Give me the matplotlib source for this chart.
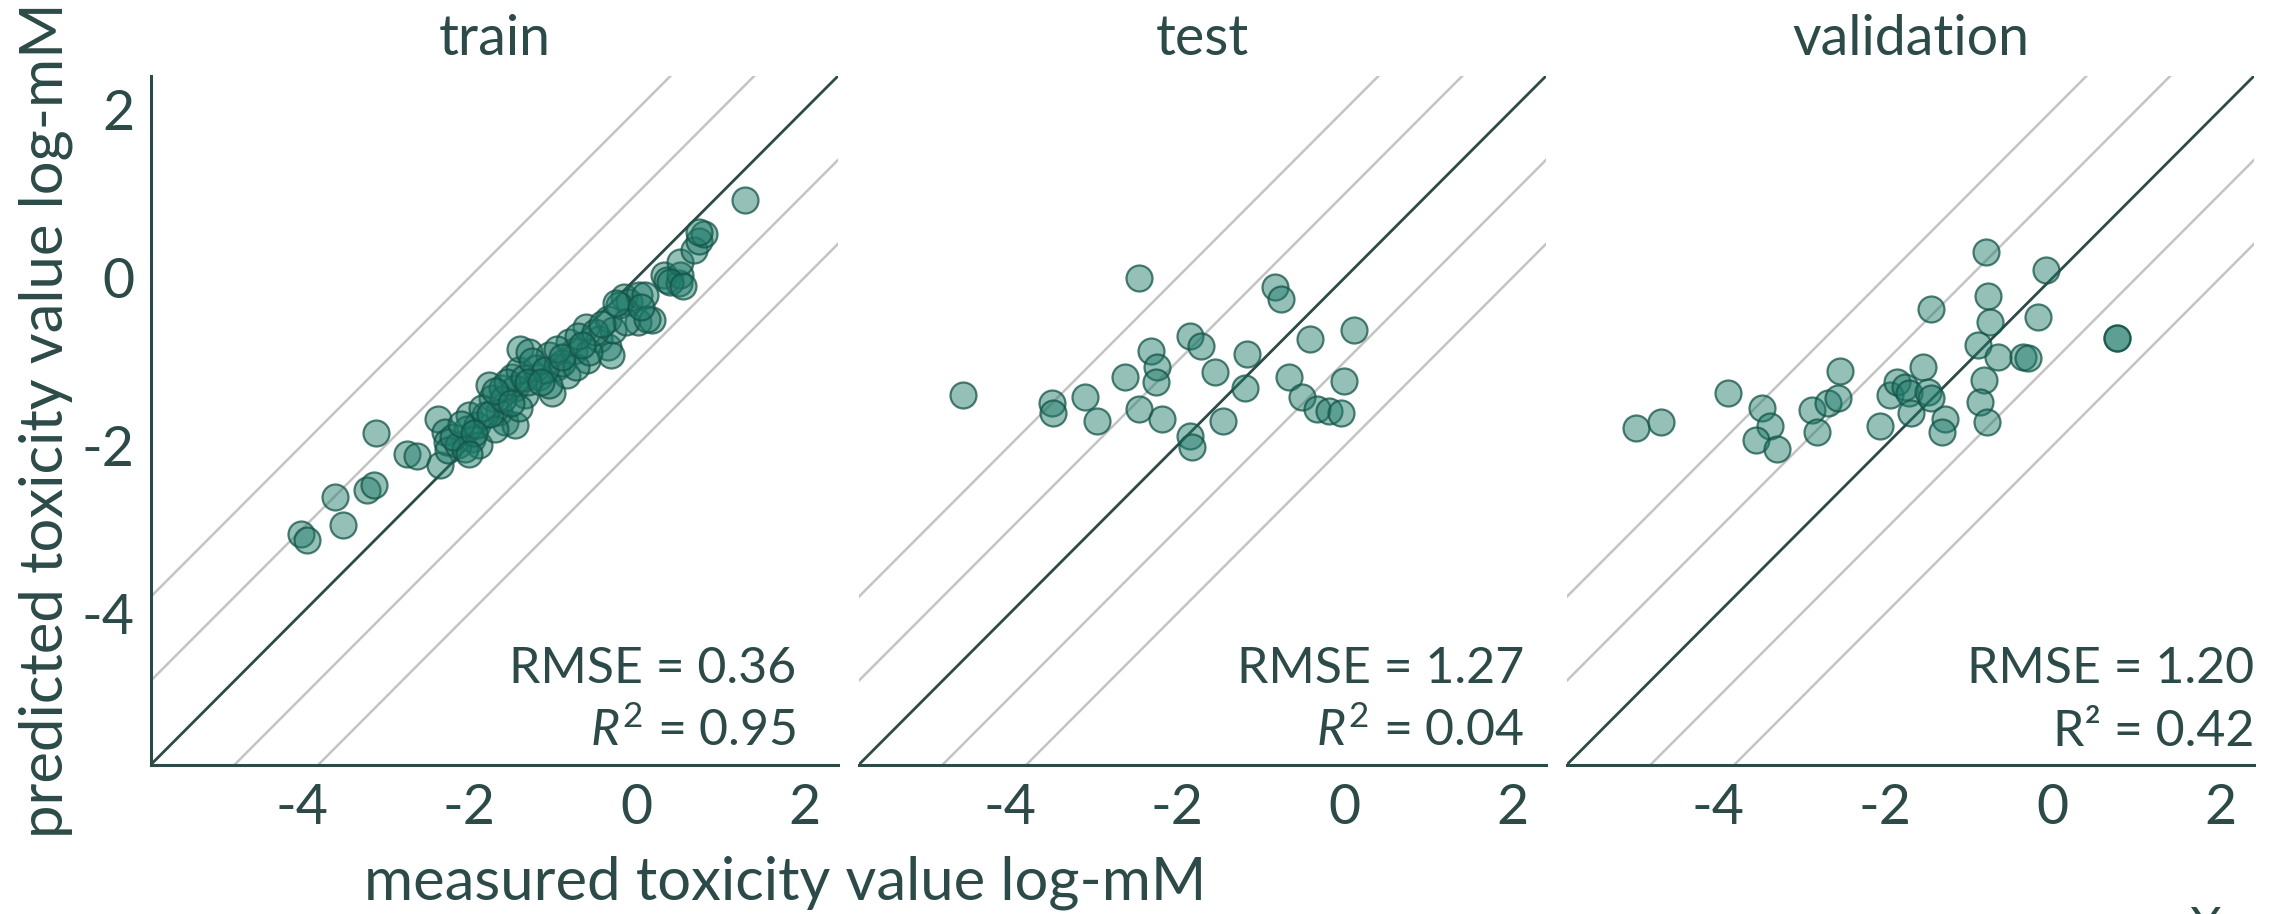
import matplotlib
matplotlib.use("Agg")
import matplotlib.pyplot as plt

plt.rcParams['font.family'] = ['Lato', 'DejaVu Sans']
plt.rcParams['mathtext.fontset'] = 'custom'
plt.rcParams['mathtext.rm'] = 'Lato'
plt.rcParams['mathtext.it'] = 'Lato:italic'

# ---------------- data ----------------
panel_titles = ["train", "test", "validation"]
tick_values = [-4, -2, 0, 2]
tick_labels = ["-4", "-2", "0", "2"]
band_offsets = [-2, -1, 1, 2]

train_measured = [1.29, -4.01, -3.94, -3.60, -3.51, -3.22, -3.14, -3.12, -2.74, -2.62,
                  -2.35, -2.37, -2.29, -2.27, -2.25, -2.01, -2.03, -1.97, -1.89, -1.91,
                  -1.77, -1.73, -1.65, -1.57, -1.45, -1.61, -1.49, -1.41, -1.39, -1.29,
                  -1.45, -1.33, -1.17, -1.01, -1.05, -0.95, -0.83, -0.75, -0.81, -0.61,
                  -0.59, -0.45, -0.35, -0.31, -0.35, -0.29, -0.15, -0.10, 0.02, 0.10,
                  0.01, 0.18, 0.32, 0.36, 0.50, 0.52, 0.52, 0.68, 0.74, 0.80,
                  0.74, -1.81, -1.69, -2.13, -2.05, -1.41, -1.21, -1.05, -0.89, -0.73,
                  -0.57, -0.21, -0.13, 0.12,
                  -1.85, -1.75, -1.60, -1.55, -1.35, -1.25, -1.10, -0.95, -0.70, -0.50,
                  -0.42, -2.20, -2.10, -1.95, -1.70, -1.50, -1.30, -0.90, -0.65, -0.25,
                  0.40, 0.55, 0.05, -1.15, -2.00]
train_predicted = [0.92, -3.05, -3.13, -2.61, -2.95, -2.53, -2.47, -1.85, -2.10, -2.12,
                   -2.23, -1.69, -1.84, -1.96, -2.06, -1.64, -1.80, -1.92, -2.00, -1.76,
                   -1.28, -1.44, -1.60, -1.72, -1.76, -1.32, -1.18, -1.10, -0.85, -0.89,
                   -1.32, -1.40, -1.18, -1.38, -0.92, -1.06, -1.16, -0.87, -0.77, -0.59,
                   -0.98, -0.73, -0.83, -0.92, -0.49, -0.63, -0.23, -0.29, -0.21, -0.21,
                   -0.53, -0.51, 0.03, -0.03, -0.07, 0.03, 0.19, 0.33, 0.44, 0.52,
                   0.54, -1.64, -1.80, -2.00, -2.04, -1.56, -1.08, -1.28, -1.02, -1.06,
                   -0.89, -0.33, -0.53, -0.49,
                   -1.55, -1.62, -1.45, -1.25, -1.20, -1.00, -1.10, -0.85, -0.70, -0.65,
                   -0.55, -1.90, -1.75, -1.85, -1.35, -1.50, -1.25, -0.95, -0.80, -0.30,
                   -0.05, -0.10, -0.35, -1.25, -2.10]

test_measured = [-4.56, -2.46, -3.50, -3.48, -3.10, -2.96, -2.63, -2.46, -2.32, -2.24,
                 -2.26, -2.18, -1.85, -1.72, -1.55, -1.85, -1.82, -1.46, -1.17, -1.19,
                 -0.83, -0.76, -0.42, -0.67, -0.51, -0.33, -0.19, -0.05, -0.01, 0.11]
test_predicted = [-1.40, 0.00, -1.49, -1.61, -1.42, -1.71, -1.18, -1.57, -0.88, -1.06,
                  -1.24, -1.69, -0.70, -0.81, -1.13, -1.89, -2.02, -1.71, -0.91, -1.32,
                  -0.11, -0.26, -0.73, -1.18, -1.42, -1.57, -1.59, -1.61, -1.23, -0.63]

valid_measured = [-4.98, -4.68, -3.88, -3.47, -3.38, -3.55, -3.29, -2.88, -2.82, -2.68,
                  -2.56, -2.54, -2.06, -1.94, -1.86, -1.77, -1.72, -1.69, -1.55, -1.49,
                  -1.45, -1.45, -1.29, -1.32, -0.80, -0.08, -0.78, -0.18, -0.75, -0.90,
                  -0.66, -0.36, -0.30, -0.82, -0.87, -0.79, 0.77, 0.77]
valid_predicted = [-1.79, -1.72, -1.37, -1.55, -1.77, -1.93, -2.04, -1.58, -1.84, -1.49,
                   -1.43, -1.11, -1.77, -1.40, -1.24, -1.30, -1.38, -1.61, -1.06, -1.36,
                   -1.43, -0.38, -1.68, -1.84, 0.30, 0.09, -0.22, -0.475, -0.53, -0.80,
                   -0.95, -0.95, -0.96, -1.22, -1.48, -1.72, -0.72, -0.72]

rmse_values = ["0.36", "1.27", "1.20"]
r2_values = ["0.95", "0.04", "0.42"]
r2_italic = [True, True, False]

measured = [train_measured, test_measured, valid_measured]
predicted = [train_predicted, test_predicted, valid_predicted]

# ---------------- style ----------------
DARK = '#2c4a47'
GRAY = '#c4c4c4'
FACE = (0.12, 0.48, 0.41, 0.47)
EDGE = (0.08, 0.33, 0.28, 0.75)
LIM = (-5.8, 2.4)

W, H = 2280, 914
fig = plt.figure(figsize=(W / 100, H / 100), dpi=100)

lefts = [151, 859, 1567]
axw = 687
bottom_px, top_px = 764.5, 76
text_right = [1.90, 2.14, 2.40]

for i in range(3):
    ax = fig.add_axes([lefts[i] / W, (H - bottom_px) / H, axw / W, (bottom_px - top_px) / H])
    ax.set_xlim(LIM)
    ax.set_ylim(LIM)
    for k in band_offsets:
        ax.axline((0, k), slope=1, color=GRAY, lw=1.8, zorder=1)
    ax.axline((0, 0), slope=1, color=DARK, lw=2.0, zorder=2)
    ax.scatter(measured[i], predicted[i], s=350, facecolors=[FACE], edgecolors=[EDGE],
               linewidths=1.6, zorder=3)

    for side in ['top', 'right']:
        ax.spines[side].set_visible(False)
    ax.spines['bottom'].set_color(DARK)
    ax.spines['bottom'].set_linewidth(2.2)
    if i == 0:
        ax.spines['left'].set_color(DARK)
        ax.spines['left'].set_linewidth(2.2)
        ax.set_yticks(tick_values)
        ax.set_yticklabels(tick_labels)
    else:
        ax.spines['left'].set_visible(False)
        ax.set_yticks([])
    ax.set_xticks(tick_values)
    ax.set_xticklabels(tick_labels)
    ax.tick_params(axis='both', length=0, labelsize=40, colors=DARK)
    ax.tick_params(axis='x', pad=13)
    ax.tick_params(axis='y', pad=12)
    ax.set_title(panel_titles[i], fontsize=40, color=DARK, pad=15)

    ax.text(text_right[i], -4.83, f"RMSE = {rmse_values[i]}", ha='right', va='baseline',
            fontsize=36, color=DARK)
    if r2_italic[i]:
        r2txt = r"$R^2$ = " + r2_values[i]
    else:
        r2txt = "R² = " + r2_values[i]
    ax.text(text_right[i], -5.58, r2txt, ha='right', va='baseline', fontsize=36, color=DARK)

fig.text(785 / W, (H - 900) / H, "measured toxicity value log-mM", ha='center', va='baseline',
         fontsize=43, color=DARK)
fig.text(46 / W, (H - 420) / H, "predicted toxicity value log-mM", ha='center', va='center',
         rotation=90, fontsize=43, color=DARK)
fig.text(2190 / W, (H - 906) / H, "Xax", ha='left', va='top', fontsize=35, color=DARK)

fig.savefig("out.png", dpi=100)
